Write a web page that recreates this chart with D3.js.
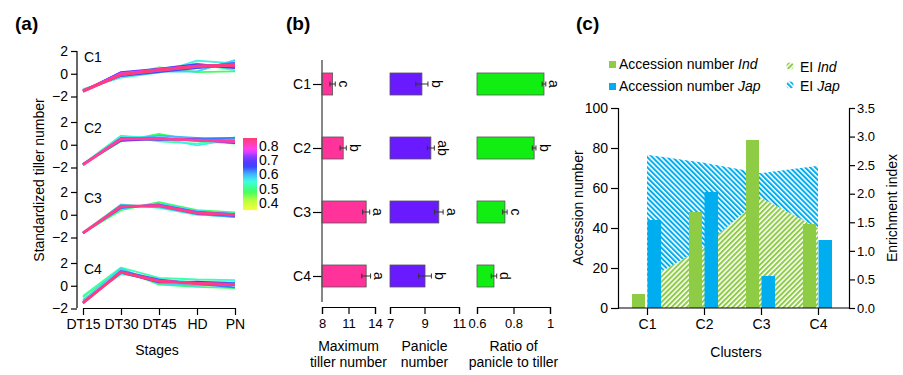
<!DOCTYPE html>
<html>
<head>
<meta charset="utf-8">
<script src="https://cdn.jsdelivr.net/npm/d3@7"></script>
<style>
body { margin: 0; background: #fff; }
svg { font-family: "Liberation Sans", Arial, sans-serif; }
.axis text { font-size: 14px; fill: #000; }
.axis path, .axis line { stroke: #000; stroke-width: 1.2; }
.axis.small text { font-size: 13px; }
</style>
</head>
<body>
<svg id="chart" width="903" height="375"></svg>
<script>
// ---- data: panel (a) ----
var stages = ["DT15", "DT30", "DT45", "HD", "PN"];
var clusters = ["C1", "C2", "C3", "C4"];
var memTicks = [0.4, 0.5, 0.6, 0.7, 0.8];

// each row: membership, then standardized values at the five stages
var c1Lines = [
  [0.48, -1.40, -0.25, 0.55, 0.15, 0.20],
  [0.53, -1.50, -0.20, 0.40, 0.90, 0.30],
  [0.56, -1.35, -0.35, 0.10, 1.15, 0.90],
  [0.58, -1.50, -0.10, 0.20, 0.20, 1.20],
  [0.62, -1.55, 0.00, 0.35, 0.50, 1.00],
  [0.65, -1.45, -0.20, 0.15, 0.50, 0.80],
  [0.67, -1.50, 0.10, 0.30, 0.75, 0.50],
  [0.69, -1.55, 0.15, 0.45, 0.85, 0.60],
  [0.72, -1.50, -0.15, 0.35, 0.60, 0.90],
  [0.76, -1.50, 0.05, 0.40, 0.70, 0.70],
  [0.82, -1.55, -0.05, 0.30, 0.65, 0.80],
  [0.85, -1.50, -0.10, 0.35, 0.65, 0.75]
];
var c2Lines = [
  [0.48, -1.75, 0.30, 0.95, 0.35, 0.10],
  [0.52, -1.70, 0.80, 0.30, 0.10, 0.65],
  [0.56, -1.75, 0.75, 0.60, -0.05, 0.50],
  [0.60, -1.70, 0.40, 0.80, 0.60, 0.20],
  [0.63, -1.75, 0.60, 0.40, 0.55, 0.60],
  [0.67, -1.70, 0.35, 0.50, 0.45, 0.15],
  [0.70, -1.75, 0.55, 0.55, 0.40, 0.35],
  [0.76, -1.70, 0.45, 0.60, 0.35, 0.25],
  [0.83, -1.75, 0.50, 0.55, 0.40, 0.30]
];
var c3Lines = [
  [0.48, -1.60, 0.40, 1.10, 0.40, 0.20],
  [0.53, -1.55, 0.90, 0.60, 0.00, -0.15],
  [0.57, -1.60, 0.55, 1.00, 0.35, 0.10],
  [0.61, -1.65, 0.85, 0.70, 0.05, -0.20],
  [0.65, -1.60, 0.60, 0.90, 0.25, 0.05],
  [0.69, -1.60, 0.75, 0.80, 0.10, -0.10],
  [0.76, -1.60, 0.70, 0.85, 0.20, 0.00],
  [0.84, -1.60, 0.72, 0.80, 0.15, 0.00]
];
var c4Lines = [
  [0.52, -0.90, 1.60, 0.70, 0.55, 0.50],
  [0.49, -1.00, 1.45, 0.10, -0.10, -0.20],
  [0.55, -1.20, 1.00, 0.60, 0.30, 0.45],
  [0.58, -1.30, 1.50, 0.20, 0.00, 0.30],
  [0.63, -1.55, 1.30, 0.55, 0.15, -0.15],
  [0.67, -1.45, 1.15, 0.30, 0.35, 0.20],
  [0.71, -1.50, 1.25, 0.50, 0.20, 0.05],
  [0.77, -1.45, 1.20, 0.45, 0.25, 0.15],
  [0.85, -1.50, 1.20, 0.40, 0.20, 0.10]
];

// ---- data: panel (b) ----
var maxTiller = [9.2, 10.4, 13.0, 13.0];
var maxTillerErr = [0.3, 0.35, 0.4, 0.5];
var maxTillerSig = ["c", "b", "a", "a"];
var panicle = [8.85, 9.37, 9.83, 9.03];
var panicleErr = [0.35, 0.2, 0.25, 0.37];
var panicleSig = ["b", "ab", "a", "b"];
var ratio = [0.967, 0.913, 0.753, 0.693];
var ratioErr = [0.01, 0.01, 0.012, 0.015];
var ratioSig = ["a", "b", "c", "d"];

// ---- data: panel (c) ----
var accInd = [7, 48, 84, 42];
var accJap = [44, 58, 16, 34];
var eiInd = [0.49, 1.07, 1.93, 1.40];
var eiJap = [2.19, 1.47, 0.43, 1.09];

var svg = d3.select("#chart");
var defs = svg.append("defs");

// panel letters
[["(a)", 15], ["(b)", 286], ["(c)", 576]].forEach(function(p){
  svg.append("text").attr("x", p[1]).attr("y", 30)
    .attr("font-size", 19).attr("font-weight", "bold").text(p[0]);
});

// ================= panel (a) =================
var memColor = d3.scaleLinear()
  .domain([0.35, 0.42, 0.48, 0.55, 0.6, 0.66, 0.72, 0.77, 0.82, 0.86])
  .range(["#f4ff3a", "#b8ff40", "#40ff60", "#40ffe0", "#40b8ff", "#3a3aff", "#7a3aff", "#ff40ff", "#ff40a8", "#ff3a70"]);

var xA = d3.scalePoint().domain(stages).range([83, 235]);
var subTops = [51, 122, 192, 263];
var allLines = [c1Lines, c2Lines, c3Lines, c4Lines];

var gA = svg.append("g");
allLines.forEach(function(rows, i){
  var yA = d3.scaleLinear().domain([-2, 2]).range([subTops[i] + 45.5, subTops[i]]);
  var line = d3.line().x(function(d, j){ return xA(stages[j]); }).y(function(d){ return yA(d); });

  rows.slice().sort(function(a, b){ return a[0] - b[0]; }).forEach(function(r){
    gA.append("path")
      .attr("d", line(r.slice(1)))
      .attr("fill", "none")
      .attr("stroke", memColor(r[0]))
      .attr("stroke-width", r[0] > 0.8 ? 3 : 1.8)
      .attr("stroke-linejoin", "round");
  });

  var ax = gA.append("g").attr("class", "axis").attr("transform", "translate(77,0)")
    .call(d3.axisLeft(yA).tickValues([-2, 0, 2]).tickSize(6).tickPadding(3)
      .tickFormat(function(d){ return d < 0 ? "\u2212" + Math.abs(d) : d; }));
  ax.select(".domain").remove();

  gA.append("text").attr("x", 84).attr("y", subTops[i] + 11)
    .attr("font-size", 14).text(clusters[i]);
});
gA.append("line").attr("x1", 77).attr("x2", 77).attr("y1", 51).attr("y2", 308)
  .attr("stroke", "#000").attr("stroke-width", 1.2);

gA.append("g").attr("class", "axis").attr("transform", "translate(0,308)")
  .call(d3.axisBottom(xA).tickSize(7).tickSizeOuter(0).tickPadding(4));

gA.append("text").attr("x", 157).attr("y", 355).attr("text-anchor", "middle")
  .attr("font-size", 14).text("Stages");
gA.append("text").attr("transform", "translate(44,180) rotate(-90)")
  .attr("text-anchor", "middle").attr("font-size", 14).text("Standardized tiller number");

// colour bar
var cbScale = d3.scaleLinear().domain([0.4, 0.8]).range([203, 146]);
var grad = defs.append("linearGradient").attr("id", "memGrad")
  .attr("x1", 0).attr("x2", 0).attr("y1", 1).attr("y2", 0);
d3.range(0, 1.001, 0.05).forEach(function(t){
  var v = 0.35 + t * (0.856 - 0.35);
  grad.append("stop").attr("offset", t).attr("stop-color", memColor(v));
});
gA.append("rect").attr("x", 243).attr("y", cbScale(0.856)).attr("width", 14)
  .attr("height", cbScale(0.35) - cbScale(0.856)).attr("fill", "url(#memGrad)");
memTicks.forEach(function(t){
  gA.append("text").attr("x", 259).attr("y", cbScale(t)).attr("dy", "0.35em")
    .attr("font-size", 14).text(t.toFixed(1));
});

// ================= panel (b) =================
var yB = d3.scalePoint().domain(clusters).range([84, 276]);
var gB = svg.append("g");

var bPanels = [
  { v: maxTiller, e: maxTillerErr, s: maxTillerSig, dom: [8, 14], rng: [322, 375], ticks: [8, 11, 14],
    fmt: d3.format("d"), color: "#ff3399", title: ["Maximum", "tiller number"] },
  { v: panicle, e: panicleErr, s: panicleSig, dom: [7, 11], rng: [390, 459], ticks: [7, 9, 11],
    fmt: d3.format("d"), color: "#6a1aff", title: ["Panicle", "number"] },
  { v: ratio, e: ratioErr, s: ratioSig, dom: [0.6, 1], rng: [477, 550], ticks: [0.6, 0.8, 1],
    fmt: function(d){ return d === 1 ? "1" : d.toFixed(1); }, color: "#11ee11", title: ["Ratio of", "panicle to tiller"] }
];

bPanels.forEach(function(p){
  var xs = d3.scaleLinear().domain(p.dom).range(p.rng);
  clusters.forEach(function(c, i){
    var y = yB(c);
    gB.append("rect").attr("x", xs(p.dom[0])).attr("y", y - 11)
      .attr("width", xs(p.v[i]) - xs(p.dom[0])).attr("height", 22)
      .attr("fill", p.color).attr("stroke", "#555").attr("stroke-width", 0.8);
    var x0 = xs(p.v[i] - p.e[i]), x1 = xs(p.v[i] + p.e[i]);
    gB.append("line").attr("x1", x0).attr("x2", x1).attr("y1", y).attr("y2", y)
      .attr("stroke", "#333").attr("stroke-width", 1);
    [x0, x1].forEach(function(xx){
      gB.append("line").attr("x1", xx).attr("x2", xx).attr("y1", y - 2.5).attr("y2", y + 2.5)
        .attr("stroke", "#333").attr("stroke-width", 1);
    });
    var lx = x1 + 8.5;
    gB.append("text").attr("x", lx).attr("y", y)
      .attr("transform", "rotate(90," + lx + "," + y + ")")
      .attr("text-anchor", "middle").attr("dy", "0.35em")
      .attr("font-size", 14).text(p.s[i]);
  });
  gB.append("g").attr("class", "axis small").attr("transform", "translate(0,307)")
    .call(d3.axisBottom(xs).tickValues(p.ticks).tickFormat(p.fmt)
      .tickSize(7).tickSizeOuter(7).tickPadding(5));
  var cx = (p.rng[0] + p.rng[1]) / 2;
  p.title.forEach(function(t, k){
    gB.append("text").attr("x", cx).attr("y", 351 + k * 16).attr("text-anchor", "middle")
      .attr("font-size", 14).text(t);
  });
});

var catAx = gB.append("g").attr("class", "axis").attr("transform", "translate(322,0)")
  .call(d3.axisLeft(yB).tickSize(9).tickPadding(2));
catAx.select(".domain").remove();
gB.append("line").attr("x1", 322).attr("x2", 322).attr("y1", 60).attr("y2", 302)
  .attr("stroke", "#555").attr("stroke-width", 1.4);

// ================= panel (c) =================
var xC = d3.scalePoint().domain(clusters).range([647, 818]);
var yL = d3.scaleLinear().domain([0, 100]).range([308, 108]);
var yR = d3.scaleLinear().domain([0, 3.5]).range([308, 108]);
var green = "#8dcc44", blue = "#00aeef";

function hatch(id, color, angle){
  var p = defs.append("pattern").attr("id", id).attr("patternUnits", "userSpaceOnUse")
    .attr("width", 3.6).attr("height", 3.6)
    .attr("patternTransform", "rotate(" + angle + ")");
  p.append("rect").attr("width", 2).attr("height", 3.6).attr("fill", color);
}
hatch("hatchInd", green, 45);
hatch("hatchJap", blue, -45);

var gC = svg.append("g");
var areaInd = d3.area()
  .x(function(d, i){ return xC(clusters[i]); })
  .y0(function(){ return yR(0); })
  .y1(function(d){ return yR(d); });
var areaJap = d3.area()
  .x(function(d, i){ return xC(clusters[i]); })
  .y0(function(d, i){ return yR(eiInd[i]); })
  .y1(function(d, i){ return yR(eiInd[i] + d); });

gC.append("path").attr("d", areaJap(eiJap)).attr("fill", "url(#hatchJap)");
gC.append("path").attr("d", areaInd(eiInd)).attr("fill", "url(#hatchInd)");

clusters.forEach(function(c, i){
  gC.append("rect").attr("x", xC(c) - 15).attr("y", yL(accInd[i]))
    .attr("width", 13).attr("height", yL(0) - yL(accInd[i])).attr("fill", green);
  gC.append("rect").attr("x", xC(c) + 0.5).attr("y", yL(accJap[i]))
    .attr("width", 13.5).attr("height", yL(0) - yL(accJap[i])).attr("fill", blue);
});

gC.append("g").attr("class", "axis").attr("transform", "translate(618,0)")
  .call(d3.axisLeft(yL).tickValues([0, 20, 40, 60, 80, 100]).tickSize(7).tickSizeOuter(7).tickPadding(3));
gC.append("g").attr("class", "axis small").attr("transform", "translate(849,0)")
  .call(d3.axisRight(yR).tickValues(d3.range(0, 3.51, 0.5)).tickFormat(d3.format(".1f"))
    .tickSize(6).tickSizeOuter(6).tickPadding(2));
var bx = gC.append("g").attr("class", "axis").attr("transform", "translate(0,308)")
  .call(d3.axisBottom(xC).tickSize(7).tickPadding(4));
bx.select(".domain").remove();
gC.append("line").attr("x1", 618).attr("x2", 849).attr("y1", 308).attr("y2", 308)
  .attr("stroke", "#000").attr("stroke-width", 1.2);

gC.append("text").attr("x", 736).attr("y", 357).attr("text-anchor", "middle")
  .attr("font-size", 14).text("Clusters");
gC.append("text").attr("transform", "translate(583,208) rotate(-90)")
  .attr("text-anchor", "middle").attr("font-size", 14).text("Accession number");
gC.append("text").attr("transform", "translate(897,208) rotate(-90)")
  .attr("text-anchor", "middle").attr("font-size", 14).text("Enrichment index");

// legend
var legAcc = [["Ind", green, 69], ["Jap", blue, 91]];
legAcc.forEach(function(l){
  gC.append("rect").attr("x", 609).attr("y", l[2] - 8).attr("width", 7).attr("height", 7).attr("fill", l[1]);
  var t = gC.append("text").attr("x", 619).attr("y", l[2]).attr("font-size", 14);
  t.append("tspan").text("Accession number ");
  t.append("tspan").attr("font-style", "italic").text(l[0]);
});
var legEI = [["Ind", "url(#hatchInd)", 72], ["Jap", "url(#hatchJap)", 91]];
legEI.forEach(function(l){
  gC.append("circle").attr("cx", 790).attr("cy", l[2] - 6).attr("r", 3.5).attr("fill", l[1]);
  var t = gC.append("text").attr("x", 800).attr("y", l[2]).attr("font-size", 14);
  t.append("tspan").text("EI ");
  t.append("tspan").attr("font-style", "italic").text(l[0]);
});
</script>
</body>
</html>
